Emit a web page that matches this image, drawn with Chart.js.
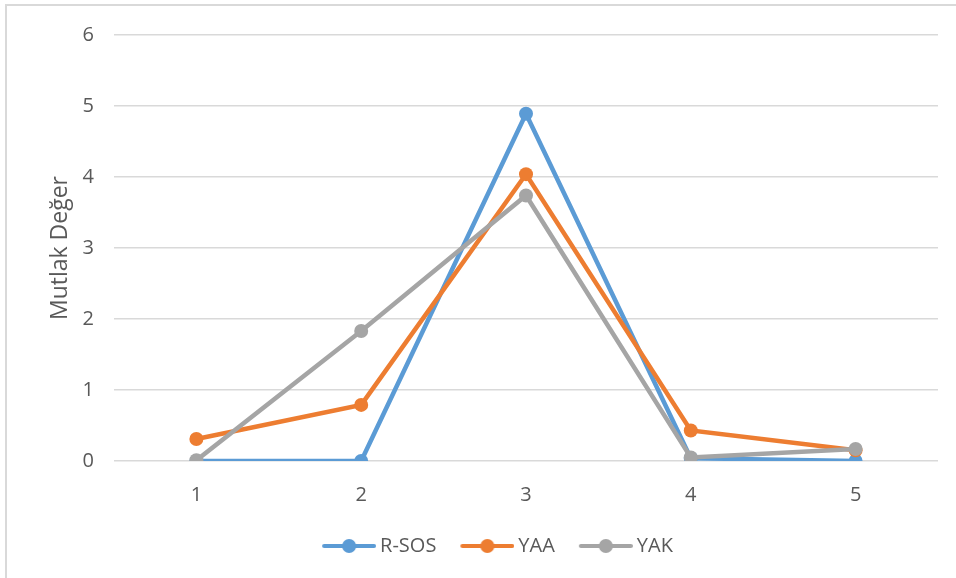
<!DOCTYPE html>
<html>
<head>
<meta charset="utf-8">
<script src="https://cdn.jsdelivr.net/npm/chart.js@4.4.0/dist/chart.umd.min.js"></script>
<style>
  html, body { margin: 0; padding: 0; background: #fff; overflow: hidden; }
  #frame {
    position: absolute; left: 5px; top: 4px;
    width: 960px; height: 600px;
    border-left: 2px solid #d9d9d9; border-top: 2px solid #d9d9d9;
  }
  #wrap { position: absolute; left: 0; top: 0; width: 956px; height: 578px; }
</style>
</head>
<body>
<div id="frame"></div>
<div id="wrap"><canvas id="myChart"></canvas></div>
<script>
// Données
const categories = ['1', '2', '3', '4', '5'];
const rsos = [0, 0, 4.89, 0.04, 0];
const yaa = [0.31, 0.79, 4.04, 0.43, 0.15];
const yak = [0.01, 1.83, 3.74, 0.05, 0.17];
const yTicks = [0, 1, 2, 3, 4, 5, 6];

const seriesNames = ['R-SOS', 'YAA', 'YAK'];
const seriesColors = ['#5B9BD5', '#ED7D31', '#A5A5A5'];

// Petit marqueur de légende : trait + rond, comme dans Excel
// (marge transparente à gauche pour espacer les entrées)
function legendMarker(color) {
  const c = document.createElement('canvas');
  c.width = 70; c.height = 16;
  const g = c.getContext('2d');
  g.strokeStyle = color;
  g.lineWidth = 4;
  g.lineCap = 'round';
  g.beginPath();
  g.moveTo(18, 8);
  g.lineTo(68, 8);
  g.stroke();
  g.fillStyle = color;
  g.beginPath();
  g.arc(43, 8, 7, 0, Math.PI * 2);
  g.fill();
  return c;
}

const font = "'Open Sans', sans-serif";
const seriesData = [rsos, yaa, yak];

const ctx = document.getElementById('myChart').getContext('2d');
const myChart = new Chart(ctx, {
  type: 'line',
  data: {
    labels: categories,
    datasets: seriesData.map((d, i) => ({
      label: seriesNames[i],
      data: d,
      borderColor: seriesColors[i],
      backgroundColor: seriesColors[i],
      borderWidth: 4.5,
      pointRadius: 7,
      pointHoverRadius: 7,
      pointBorderWidth: 0,
      pointStyle: 'circle',
      tension: 0,
      order: 3 - i
    }))
  },
  options: {
    responsive: true,
    maintainAspectRatio: false,
    animation: false,
    layout: { padding: { left: 47, right: 18, top: 35, bottom: 12 } },
    scales: {
      x: {
        offset: true,
        grid: { display: false },
        border: { display: false },
        ticks: { color: '#595959', font: { family: font, size: 20 }, padding: 14 },
        afterFit: (scale) => { scale.height = 61; }
      },
      y: {
        min: 0,
        max: 6,
        afterBuildTicks: (scale) => { scale.ticks = yTicks.map(v => ({ value: v })); },
        grid: { color: '#d9d9d9', lineWidth: 1.5, drawTicks: false },
        border: { display: false },
        ticks: { color: '#595959', font: { family: font, size: 20 }, padding: 20 },
        title: {
          display: true,
          text: 'Mutlak Değer',
          color: '#595959',
          font: { family: font, size: 23 },
          padding: { top: 0, bottom: 0 }
        },
        afterFit: (scale) => { scale.width = 67; }
      }
    },
    plugins: {
      legend: {
        position: 'bottom',
        labels: {
          usePointStyle: true,
          pointStyleWidth: 58,
          color: '#595959',
          font: { family: font, size: 20 },
          padding: 14,
          sort: (a, b) => a.datasetIndex - b.datasetIndex,
          generateLabels: (chart) => seriesNames.map((n, i) => ({
            text: n,
            datasetIndex: i,
            pointStyle: legendMarker(seriesColors[i]),
            fillStyle: seriesColors[i],
            strokeStyle: seriesColors[i],
            fontColor: '#595959',
            lineWidth: 0,
            hidden: false
          }))
        }
      },
      tooltip: { enabled: false }
    }
  }
});
</script>
</body>
</html>
